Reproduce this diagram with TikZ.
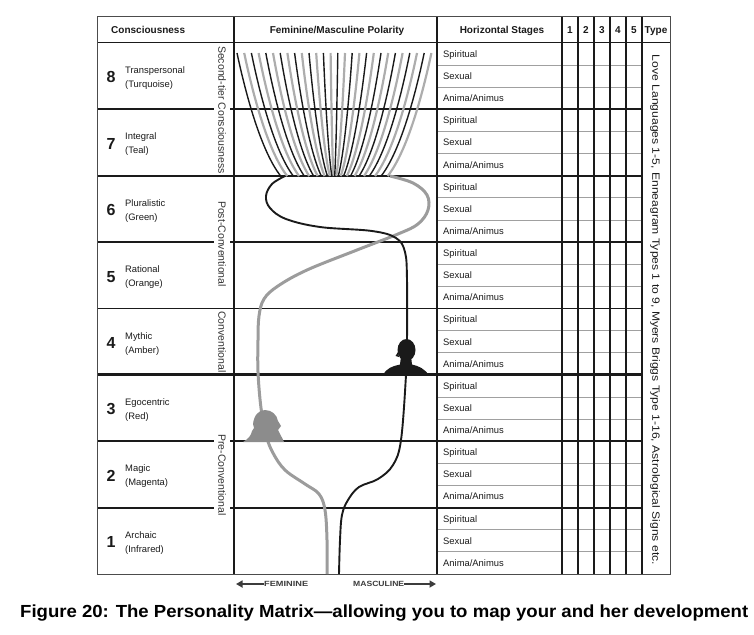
\documentclass[tikz,border=0pt]{standalone}
\usepackage{fontspec}
\setmainfont{Liberation Sans}
\usetikzlibrary{arrows.meta}
\definecolor{ink}{HTML}{1A1A1A}
\definecolor{fgray}{HTML}{ADADAD}
\definecolor{sgray}{HTML}{A0A0A0}
\definecolor{wgray}{HTML}{8C8C8C}
\tikzset{
  subline/.style={draw=sgray, line width=0.9pt},
  colline/.style={draw=ink, line width=1.9pt},
  frameline/.style={draw=black!70, line width=1pt},
  lbl/.style={inner sep=0pt, anchor=west, font=\fontsize{9.4}{11}\selectfont, text=ink, text height=6.8pt, text depth=0pt},
  hdr/.style={inner sep=0pt, font=\fontsize{10}{12}\selectfont\bfseries, text=ink, text height=7.2pt, text depth=0pt},
  num/.style={inner sep=0pt, font=\fontsize{16}{18}\selectfont\bfseries, text=ink, text height=11.5pt, text depth=0pt},
  vlab/.style={rotate=-90, fill=white, inner xsep=0pt, inner ysep=4pt, text=black!80, font=\fontsize{10.5}{12}\selectfont, text height=7.5pt, text depth=0pt},
  fanb/.style={draw=ink, line width=1.4pt},
  fang/.style={draw=fgray, line width=2.2pt},
  masc/.style={draw=ink, line width=1.9pt, line join=round},
  femi/.style={draw=fgray!90!black, line width=3pt, line join=round},
  arr/.style={draw=ink!85, line width=2.6pt, -{Triangle[length=6.5pt,width=7pt]}},
  botlab/.style={inner sep=0pt, font=\fontsize{7.5}{8}\selectfont\bfseries, text=ink!85, text height=5.4pt, text depth=0pt},
}
\begin{document}
\begin{tikzpicture}[x=1pt,y=-1pt]
\useasboundingbox (0,0) rectangle (754,634);

% sub-row gray lines
\foreach \k in {0,...,7}{
  \pgfmathsetmacro\ya{43+\k*66.375+22.125}
  \pgfmathsetmacro\yb{43+\k*66.375+44.25}
  \draw[subline] (437,\ya) -- (642,\ya);
  \draw[subline] (437,\yb) -- (642,\yb);
}
% row boundary lines
\foreach \k/\w in {1/1.8,2/2.2,3/1.3,4/1.4,5/2.8,6/2,7/2}{
  \pgfmathsetmacro\yy{43+\k*66.375}
  \draw[draw=ink, line width=\w pt] (97,\yy) -- (642,\yy);
}
% header line
\draw[draw=ink, line width=1pt] (97,43) -- (670,43);
% vertical lines
\draw[colline] (234,17) -- (234,574);
\draw[colline, line width=1.5pt] (437,17) -- (437,574);
\foreach \xx in {562,578,594,610,626}{
  \draw[colline] (\xx,17) -- (\xx,574);
}
\draw[draw=ink, line width=1.1pt] (642,17) -- (642,574);
% frame
\draw[frameline] (97,17) rectangle (670,574);

% fan of polarity lines
\foreach \i in {1,3,...,27}{
  \pgfmathsetmacro\xt{237+\i*7.2}
  \pgfmathsetmacro\dd{\xt-334}
  \pgfmathsetmacro\bb{334+0.55*\dd*(0.3+0.7*abs(\dd)/97)}
  \pgfmathsetmacro\ca{\xt+0.2*(\bb-\xt)}
  \pgfmathsetmacro\cb{\xt+0.55*(\bb-\xt)}
  \draw[fang] (\xt,53) .. controls (\ca,94) and (\cb,151) .. (\bb,176);
}
\foreach \i in {0,2,...,26}{
  \pgfmathsetmacro\xt{237+\i*7.2}
  \pgfmathsetmacro\dd{\xt-334}
  \pgfmathsetmacro\bb{334+0.55*\dd*(0.3+0.7*abs(\dd)/97)}
  \pgfmathsetmacro\ca{\xt+0.2*(\bb-\xt)}
  \pgfmathsetmacro\cb{\xt+0.55*(\bb-\xt)}
  \draw[fanb] (\xt,53) .. controls (\ca,94) and (\cb,151) .. (\bb,176);
}

% feminine (gray) line
\draw[femi] plot[smooth, tension=0.6] coordinates {
  (390,176) (413,183) (427,195) (428,210) (418,224) (398,234) (357,250)
  (307,270) (278,286) (264,299) (259,316) (258,340) (258,372) (261,408)
  (266,435) (273,453) (285,470) (305,484) (319,494) (325,510) (327,540) (327,574)};
% masculine (black) line
\draw[masc] plot[smooth, tension=0.6] coordinates {
  (285,176) (272,184) (266,196) (270,208) (286,219) (320,227) (372,231)
  (396,238) (405,252) (407,280) (407,340) (406,375) (401,440) (393,465)
  (378,479) (359,487) (348,500) (342,515) (340,540) (339,574)};

% man silhouette
\fill[ink] (406.5,350) ellipse [x radius=9pt, y radius=11pt];
\fill[ink] (398,352) -- (395.5,356) -- (399,357) -- cycle;
\fill[ink] (383,375.5) .. controls (386,368) and (393,366) .. (400,364.5) -- (401,356) -- (411,356) -- (412,364.5) .. controls (419,366) and (425,369) .. (429,375.5) -- cycle;
% woman silhouette
\fill[wgray] (243,442) .. controls (248,439) and (251,436) .. (252,431) -- (254,428) -- (253,424) .. controls (254,415) and (259,410) .. (265,410) .. controls (272,410) and (277,415) .. (278,421) -- (281,426) -- (278,430) -- (280,434) .. controls (282,437) and (283,440) .. (284,442) -- cycle;

% header texts
\node[hdr, anchor=west] (hcon) at (111,30) {Consciousness};
\node[hdr] (hpol) at (337,30) {Feminine/Masculine Polarity};
\node[hdr] (hhor) at (502,30) {Horizontal Stages};
\foreach \c/\xx in {1/570,2/586,3/602,4/618,5/634}{
  \node[hdr] (hc\c) at (\xx,30) {\c};
}
\node[hdr] (htype) at (656,30) {Type};

% consciousness levels
\foreach \n/\nm/\cl [count=\k from 0] in {8/Transpersonal/Turquoise,7/Integral/Teal,6/Pluralistic/Green,5/Rational/Orange,4/Mythic/Amber,3/Egocentric/Red,2/Magic/Magenta,1/Archaic/Infrared}{
  \pgfmathsetmacro\cy{43+\k*66.375+33.19}
  \node[num] (num\n) at (111,\cy+1) {\n};
  \node[lbl] (nm\n) at (125,\cy-6) {\nm};
  \node[lbl] (cl\n) at (125,\cy+8) {(\cl)};
}

% horizontal stage labels
\foreach \k in {0,...,7}{
  \foreach \lab [count=\j from 0] in {Spiritual,Sexual,Anima/Animus}{
    \pgfmathsetmacro\sy{43+\k*66.375+11.06+\j*22.125}
    \node[lbl] (st\k\j) at (443,\sy) {\lab};
  }
}

% vertical tier labels
\node[vlab] (tier2) at (222,110) {Second-tier Consciousness};
\node[vlab] (postc) at (222,244) {Post-Conventional};
\node[vlab] (conv) at (222,342) {Conventional};
\node[vlab] (prec) at (222,475) {Pre-Conventional};

% type column text
\node[rotate=-90, inner sep=0pt, text=ink, font=\fontsize{10.5}{12}\selectfont, text height=7.5pt, text depth=0pt] (typ) at (656,310) {\resizebox{510pt}{\height}{Love Languages 1-5, Enneagram Types 1 to 9, Myers Briggs Type 1-16, Astrological Signs etc.}};

% bottom polarity labels
\node[botlab, anchor=west] (fem) at (264,584) {\resizebox{44pt}{\height}{FEMININE}};
\coordinate (femtip) at (236,584);
\draw[arr] (fem.west) -- (femtip);
\node[botlab, anchor=west] (mas) at (353,584) {\resizebox{51pt}{\height}{MASCULINE}};
\coordinate (mastip) at (436,584);
\draw[arr] (mas.east) -- (mastip);

% caption
\node[anchor=base west, inner sep=0pt, font=\fontsize{17.5}{19}\selectfont\bfseries] (cap) at (20,617) {\resizebox{728pt}{\height}{Figure 20: The Personality Matrix—allowing you to map your and her development}};
\end{tikzpicture}
\end{document}
